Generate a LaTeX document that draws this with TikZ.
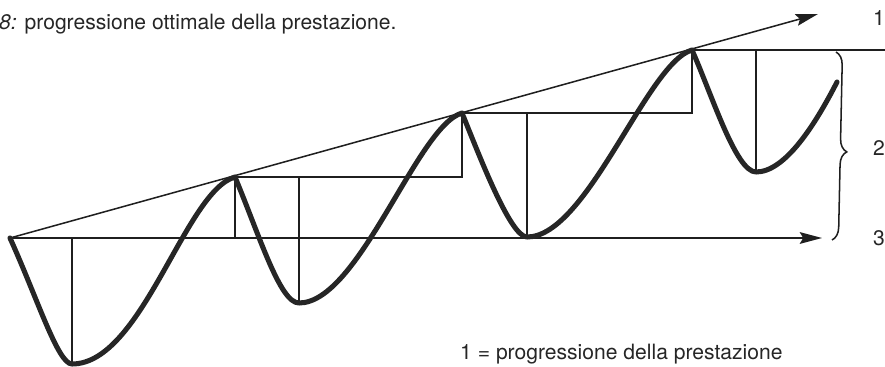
\documentclass[tikz,border=0pt]{standalone}
\usepackage{fontspec}
\setmainfont{TeX Gyre Heros}
\usepackage{tikz}
\usetikzlibrary{arrows.meta, decorations.pathreplacing}
\tikzset{
  guide/.style = {draw=black!88, line width=1.3pt},
  wave/.style  = {draw=black!85, line width=4.3pt, line join=round, line cap=round},
  arr/.style   = {guide, -{Stealth[length=19pt, width=10pt, inset=3pt]}},
  brc/.style   = {guide, decorate, decoration={brace, amplitude=11pt, aspect=0.53}},
  lab/.style   = {font=\fontsize{18}{22}\selectfont, text=black!85, inner sep=0pt},
}

\begin{document}
\begin{tikzpicture}[x=0.03cm, y=-0.03cm]
  \useasboundingbox (0,0) rectangle (885,367);

  \coordinate (p0) at (10,238);
  \coordinate (p1) at (235,177);
  \coordinate (p2) at (462,113);
  \coordinate (p3) at (692,50);
  \coordinate (t1) at (72,364);
  \coordinate (t2) at (299,303);
  \coordinate (t3) at (527,237);
  \coordinate (t4) at (756,172);
  \coordinate (wend) at (837,82);
  \coordinate (tip1) at (818,14);
  \coordinate (tip3) at (822,238);
  \coordinate (edge) at (885,50);
  \coordinate (brtop) at (836,52);
  \coordinate (brbot) at (832,240);

  \node[lab, anchor=base west] (title) at (-1,30) {\itshape 8:\upshape{} progressione ottimale della prestazione.};
  \node[lab, anchor=base west] (legend) at (460,359) {1 = progressione della prestazione};
  \node[lab, anchor=west] (lab1) at (873,18) {1};
  \node[lab, anchor=west] (lab2) at (873,148) {2};
  \node[lab, anchor=west] (lab3) at (873,238) {3};

  \draw[arr] (p0) -- (tip1);
  \draw[arr] (p0) -- (tip3);
  \draw[guide] (p1) -- (p1 |- p0);
  \draw[guide] (p1) -- (p2 |- p1) -- (p2);
  \draw[guide] (p2) -- (p3 |- p2) -- (p3);
  \draw[guide] (p3) -- (edge);
  \draw[guide] (t1) -- (t1 |- p0);
  \draw[guide] (t2) -- (t2 |- p1);
  \draw[guide] (t3) -- (t3 |- p2);
  \draw[guide] (t4) -- (t4 |- p3);
  \draw[brc] (brtop) -- (brbot);

  \draw[wave] (p0) .. controls (38,300) and (58,364) .. (t1)
    .. controls (142,364) and (185,191) .. (p1)
    .. controls (260,237) and (280,303) .. (t2)
    .. controls (359,303) and (417,126) .. (p2)
    .. controls (478,152) and (510,237) .. (t3)
    .. controls (587,237) and (647,63) .. (p3)
    .. controls (712,95) and (736,172) .. (t4)
    .. controls (785,172) and (815,125) .. (wend);
\end{tikzpicture}
\end{document}
